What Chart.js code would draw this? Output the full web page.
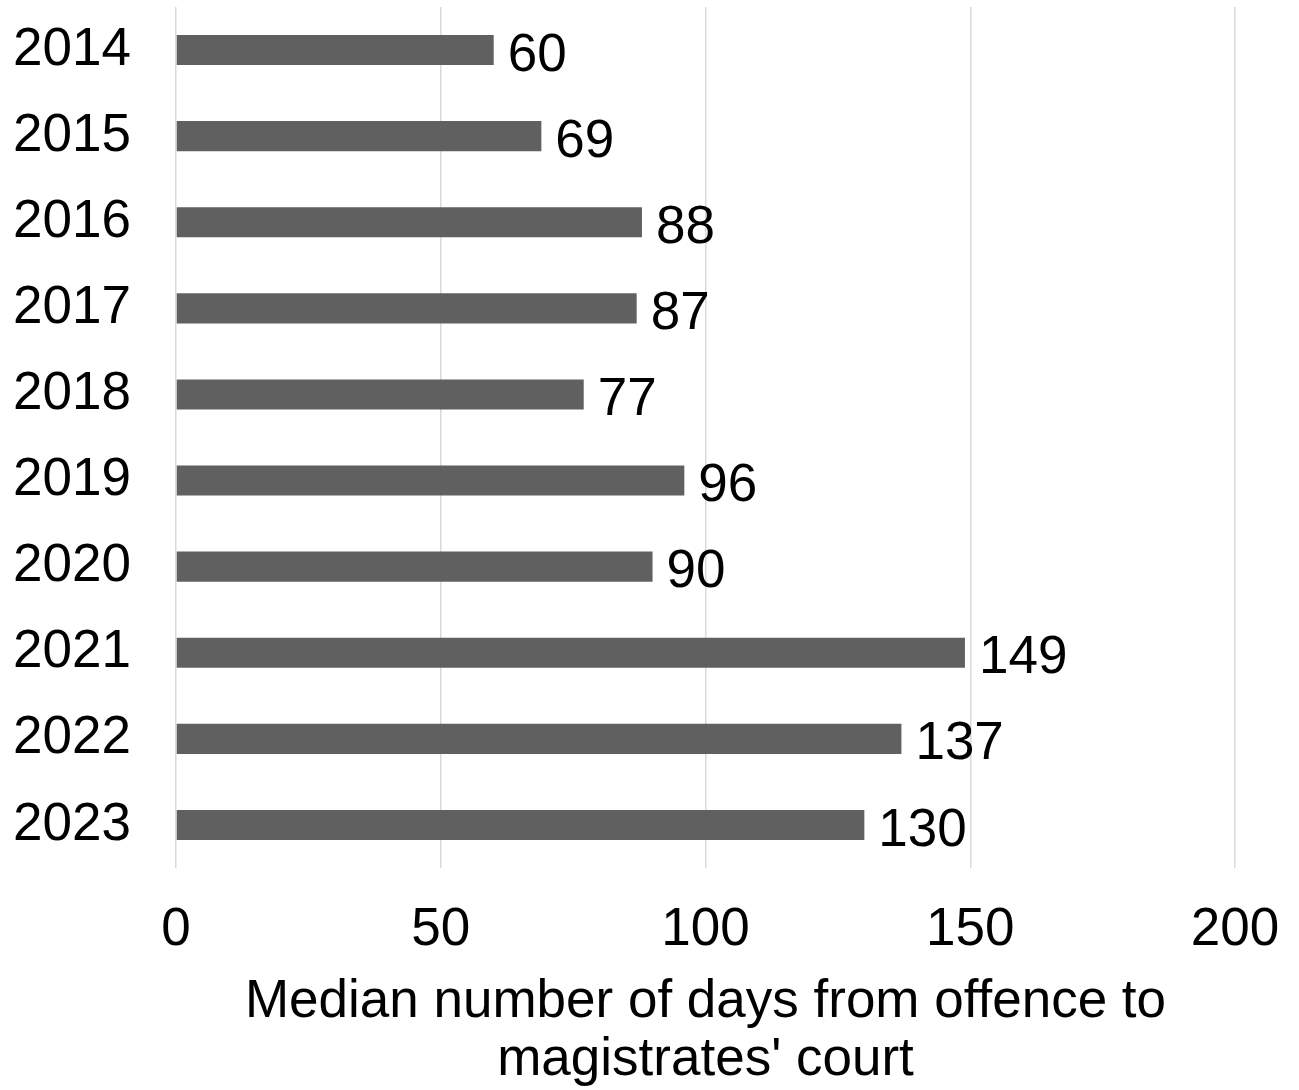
<!DOCTYPE html>
<html>
<head>
<meta charset="utf-8">
<script src="https://cdn.jsdelivr.net/npm/chart.js@4"></script>
<style>
  body { margin: 0; background: #fff; }
  #wrap { width: 1299px; height: 1090px; position: relative; }
</style>
</head>
<body>
<div id="wrap"><canvas id="chart"></canvas></div>
<script>
// chart data
const years = ['2014', '2015', '2016', '2017', '2018', '2019', '2020', '2021', '2022', '2023'];
const medianDays = [60, 69, 88, 87, 77, 96, 90, 149, 137, 130];
const xTicks = [0, 50, 100, 150, 200];
const axisTitle = ['Median number of days from offence to', "magistrates' court"];

const FONT = "'Liberation Sans', Arial, sans-serif";
const SIZE = 53;

// draws the value to the right of each bar
const valueLabels = {
  id: 'valueLabels',
  afterDatasetsDraw(chart) {
    const ctx = chart.ctx;
    const meta = chart.getDatasetMeta(0);
    ctx.save();
    ctx.font = SIZE + 'px ' + FONT;
    ctx.fillStyle = '#000';
    ctx.textAlign = 'left';
    ctx.textBaseline = 'middle';
    meta.data.forEach((bar, i) => {
      ctx.fillText(String(medianDays[i]), bar.x + 14, bar.y + 6);
    });
    ctx.restore();
  }
};

new Chart(document.getElementById('chart'), {
  type: 'bar',
  data: {
    labels: years,
    datasets: [{
      data: medianDays,
      backgroundColor: '#606060',
      barPercentage: 0.7,
      categoryPercentage: 0.5
    }]
  },
  options: {
    indexAxis: 'y',
    responsive: true,
    maintainAspectRatio: false,
    animation: false,
    layout: { padding: { top: 7, right: 64, bottom: 0, left: 0 } },
    plugins: {
      legend: { display: false },
      tooltip: { enabled: false }
    },
    scales: {
      x: {
        min: 0,
        max: 200,
        afterBuildTicks(scale) {
          scale.ticks = xTicks.map(v => ({ value: v }));
        },
        afterFit(scale) {
          scale.height = 222;
          scale.paddingLeft = 0;
          scale.paddingRight = 0;
        },
        grid: { color: '#d9d9d9', lineWidth: 1.5, drawTicks: false },
        border: { display: false },
        ticks: {
          color: '#000',
          padding: 31,
          font: { family: FONT, size: SIZE }
        },
        title: {
          display: true,
          text: axisTitle,
          color: '#000',
          padding: { top: 0, bottom: 0 },
          font: { family: FONT, size: SIZE, lineHeight: 1.1 }
        }
      },
      y: {
        afterFit(scale) {
          scale.width = 176;
          scale.paddingTop = 0;
          scale.paddingBottom = 0;
        },
        grid: { display: false, drawTicks: false },
        border: { display: false },
        ticks: {
          color: '#000',
          padding: 45,
          font: { family: FONT, size: SIZE }
        }
      }
    }
  },
  plugins: [valueLabels]
});
</script>
</body>
</html>
